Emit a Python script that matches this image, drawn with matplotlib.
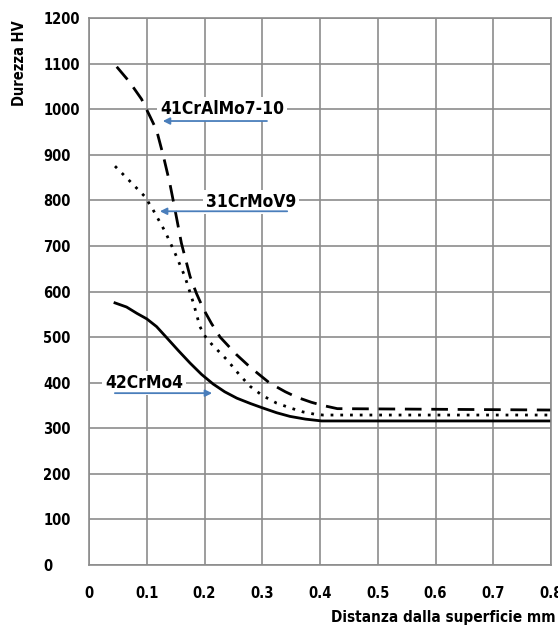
import matplotlib
matplotlib.use("Agg")
import matplotlib.pyplot as plt

plt.rcParams['font.family'] = ['DejaVu Sans']
plt.rcParams['font.stretch'] = 'condensed'
plt.rcParams['font.weight'] = 'bold'

# 41CrAlMo7-10 (tratteggiata)
x_cral = [0.048, 0.070, 0.091, 0.106, 0.117, 0.129, 0.140, 0.149, 0.160, 0.175, 0.186,
          0.198, 0.212, 0.227, 0.255, 0.279, 0.313, 0.340, 0.360, 0.385, 0.405, 0.43, 0.8]
y_cral = [1093, 1060, 1022, 983, 954, 896, 837, 779, 706, 633, 596,
          562, 530, 500, 462, 434, 399, 380, 368, 357, 350, 343, 340]

# 31CrMoV9 (punteggiata)
x_crv = [0.045, 0.070, 0.097, 0.111, 0.132, 0.149, 0.166, 0.181, 0.192, 0.202, 0.212,
         0.239, 0.260, 0.279, 0.300, 0.325, 0.350, 0.370, 0.390, 0.405, 0.8]
y_crv = [875, 843, 808, 779, 731, 684, 633, 574, 523, 500, 485,
         450, 418, 392, 372, 355, 344, 336, 331, 329, 329]

# 42CrMo4 (continua)
x_crmo = [0.045, 0.065, 0.083, 0.100, 0.117, 0.135, 0.155, 0.175, 0.195, 0.215, 0.235,
          0.256, 0.280, 0.302, 0.325, 0.348, 0.375, 0.403, 0.8]
y_crmo = [575, 566, 552, 540, 523, 498, 470, 443, 418, 397, 380,
          366, 354, 344, 334, 326, 320, 316, 316]

x_ticks = [0, 0.1, 0.2, 0.3, 0.4, 0.5, 0.6, 0.7, 0.8]
x_ticklabels = ['0', '0.1', '0.2', '0.3', '0.4', '0.5', '0.6', '0.7', '0.8']
y_ticks = list(range(0, 1300, 100))

fig = plt.figure(figsize=(5.58, 6.27), dpi=100)
ax = fig.add_axes([89 / 558, 1 - 565 / 627, 462 / 558, 547 / 627])

ax.plot(x_cral, y_cral, color='black', lw=2, linestyle=(0, (6, 3.5)))
ax.plot(x_crv, y_crv, color='black', lw=2, linestyle=(0, (1, 2.5)))
ax.plot(x_crmo, y_crmo, color='black', lw=2)

ax.set_xlim(0, 0.8)
ax.set_ylim(0, 1200)
ax.set_xticks(x_ticks)
ax.set_xticklabels(x_ticklabels)
ax.set_yticks(y_ticks)
ax.grid(True, color='#8c8c8c', lw=1.2)
ax.set_axisbelow(True)
for s in ax.spines.values():
    s.set_color('#8c8c8c')
    s.set_linewidth(1.2)
ax.tick_params(length=0, labelsize=10.5)
ax.tick_params(axis='x', pad=15)
ax.tick_params(axis='y', pad=33)
for lab in ax.get_yticklabels():
    lab.set_horizontalalignment('left')

# etichette con frecce
box = dict(facecolor='white', edgecolor='none', pad=2)
ax.text(0.23, 1000, '41CrAlMo7-10', fontsize=12.5, ha='center', va='center', bbox=box)
ax.annotate('', xy=(0.123, 974), xytext=(0.313, 974),
            arrowprops=dict(arrowstyle='-|>', color='#4a7ebb', lw=1.3, mutation_scale=10))
ax.text(0.28, 796, '31CrMoV9', fontsize=12.5, ha='center', va='center', bbox=box)
ax.annotate('', xy=(0.118, 776), xytext=(0.348, 776),
            arrowprops=dict(arrowstyle='-|>', color='#4a7ebb', lw=1.3, mutation_scale=10))
ax.text(0.095, 399, '42CrMo4', fontsize=12.5, ha='center', va='center', bbox=box)
ax.annotate('', xy=(0.218, 377), xytext=(0.04, 377),
            arrowprops=dict(arrowstyle='-|>', color='#4a7ebb', lw=1.3, mutation_scale=10))

fig.text(20 / 558, 1 - 63 / 627, 'Durezza HV', rotation=90, ha='center', va='center', fontsize=10.5)
fig.text(556 / 558, 1 - 625 / 627, 'Distanza dalla superficie mm', ha='right', va='bottom', fontsize=11)

fig.savefig('out.png', dpi=100)
